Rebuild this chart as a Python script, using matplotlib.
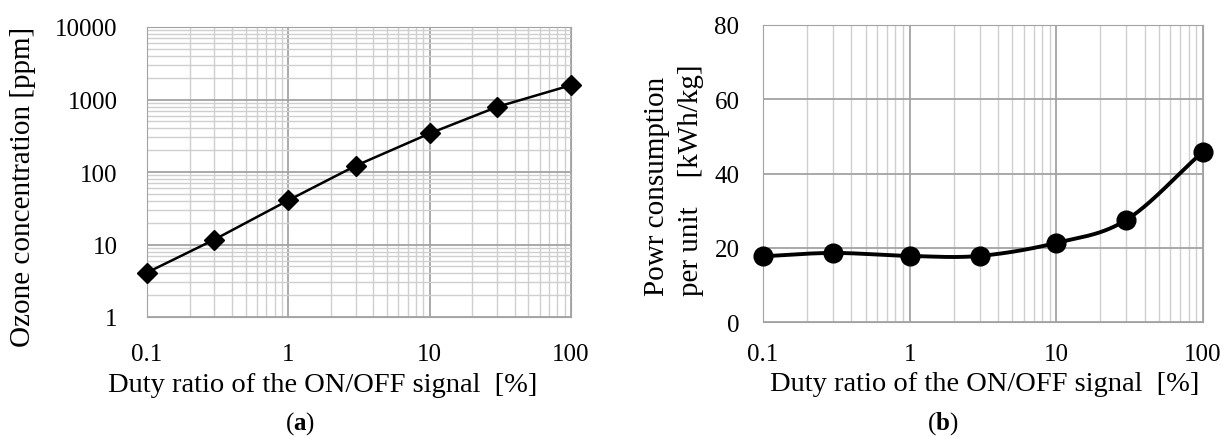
import numpy as np
import matplotlib
matplotlib.use("Agg")
import matplotlib.pyplot as plt
from matplotlib.ticker import LogLocator, FixedLocator, NullFormatter

plt.rcParams['font.family'] = ['Liberation Serif', 'DejaVu Serif']
plt.rcParams['mathtext.fontset'] = 'custom'
plt.rcParams['mathtext.rm'] = 'Liberation Serif'
plt.rcParams['mathtext.bf'] = 'Liberation Serif:bold'

# Data
duty = [0.1, 0.3, 1, 3, 10, 30, 100]
ozone = [4.1, 11.7, 40.7, 122, 340, 790, 1575]
power = [17.7, 18.6, 17.8, 17.8, 21.3, 27.5, 45.9]
x_ticks = [0.1, 1, 10, 100]
x_labels = ["0.1", "1", "10", "100"]
oz_ticks = [1, 10, 100, 1000, 10000]
oz_labels = ["1", "10", "100", "1000", "10000"]
pw_ticks = [0, 20, 40, 60, 80]


def smooth(xs, ys, n=30):
    # Catmull-Rom in log-x space, like Excel's smoothed line
    lx = np.log10(xs)
    ys = np.asarray(ys, float)
    px = np.concatenate([[2 * lx[0] - lx[1]], lx, [2 * lx[-1] - lx[-2]]])
    py = np.concatenate([[2 * ys[0] - ys[1]], ys, [2 * ys[-1] - ys[-2]]])
    outx, outy = [], []
    for i in range(1, len(px) - 2):
        t = np.linspace(0, 1, n)
        for p, out in ((px, outx), (py, outy)):
            p0, p1, p2, p3 = p[i - 1], p[i], p[i + 1], p[i + 2]
            out.extend(0.5 * (2 * p1 + (-p0 + p2) * t
                              + (2 * p0 - 5 * p1 + 4 * p2 - p3) * t ** 2
                              + (-p0 + 3 * p1 - 3 * p2 + p3) * t ** 3))
    return 10 ** np.array(outx), np.array(outy)


W, H = 1223, 439
fig = plt.figure(figsize=(W / 100, H / 100), dpi=100)
tick_fs = 18
lab_fs = 20.5
grid_major = "#a3a3a3"
grid_minor = "#cfcfcf"

# (a) ozone concentration
ax1 = fig.add_axes([147 / W, 1 - 318 / H, 424 / W, 290 / H])
ax1.set_xscale('log')
ax1.set_yscale('log')
ax1.set_xlim(0.1, 100)
ax1.set_ylim(1, 10000)
ax1.xaxis.set_major_locator(FixedLocator(x_ticks))
ax1.set_xticklabels(x_labels)
ax1.yaxis.set_major_locator(FixedLocator(oz_ticks))
ax1.set_yticklabels(oz_labels)
ax1.xaxis.set_minor_locator(LogLocator(base=10, subs=np.arange(2, 10)))
ax1.yaxis.set_minor_locator(LogLocator(base=10, subs=np.arange(2, 10)))
ax1.xaxis.set_minor_formatter(NullFormatter())
ax1.yaxis.set_minor_formatter(NullFormatter())
ax1.grid(True, which='minor', color=grid_minor, lw=1.0)
ax1.grid(True, which='major', color=grid_major, lw=1.3)
ax1.set_axisbelow(True)
ax1.plot(duty, ozone, color='black', lw=1.8, marker='D', markersize=10,
         zorder=3, clip_on=False)
ax1.tick_params(which='both', length=0, labelsize=tick_fs)
ax1.tick_params(axis='x', pad=19)
ax1.tick_params(axis='y', pad=21)
for s in ax1.spines.values():
    s.set_color(grid_major)

# (b) power consumption per unit
ax2 = fig.add_axes([763 / W, 1 - 323 / H, 440 / W, 297 / H])
ax2.set_xscale('log')
ax2.set_xlim(0.1, 100)
ax2.set_ylim(0, 80)
ax2.xaxis.set_major_locator(FixedLocator(x_ticks))
ax2.set_xticklabels(x_labels)
ax2.yaxis.set_major_locator(FixedLocator(pw_ticks))
ax2.xaxis.set_minor_locator(LogLocator(base=10, subs=np.arange(2, 10)))
ax2.xaxis.set_minor_formatter(NullFormatter())
ax2.grid(True, which='minor', axis='x', color=grid_minor, lw=1.0)
ax2.grid(True, which='major', color=grid_major, lw=1.3)
ax2.set_axisbelow(True)
sx, sy = smooth(duty, power)
ax2.plot(sx, sy, color='black', lw=2.8, zorder=3, clip_on=False)
ax2.plot(duty, power, 'o', color='black', markersize=13.5, zorder=4, clip_on=False)
ax2.tick_params(which='both', length=0, labelsize=tick_fs)
ax2.tick_params(axis='x', pad=15)
ax2.tick_params(axis='y', pad=17)
for s in ax2.spines.values():
    s.set_color(grid_major)

# axis titles and captions, placed where the reference has them
xtitle = "Duty ratio of the ON/OFF signal  [%]"
fig.text(323 / W, 1 - 386 / H, xtitle, ha='center', va='center', fontsize=lab_fs)
fig.text(985 / W, 1 - 385 / H, xtitle, ha='center', va='center', fontsize=lab_fs)
fig.text(23 / W, 1 - 187 / H, "Ozone concentration [ppm]", rotation=90,
         ha='center', va='center', fontsize=lab_fs + 0.5)
fig.text(674 / W, 1 - 180 / H, "Powr consumption\nper unit    [kWh/kg]",
         rotation=90, ha='center', va='center', fontsize=lab_fs + 0.5,
         multialignment='left', linespacing=1.4)

fig.text(300 / W, 1 - 424 / H, r"($\mathbf{a}$)", ha='center', va='center', fontsize=18)
fig.text(943 / W, 1 - 424 / H, r"($\mathbf{b}$)", ha='center', va='center', fontsize=18)

fig.savefig("out.png", dpi=100)
